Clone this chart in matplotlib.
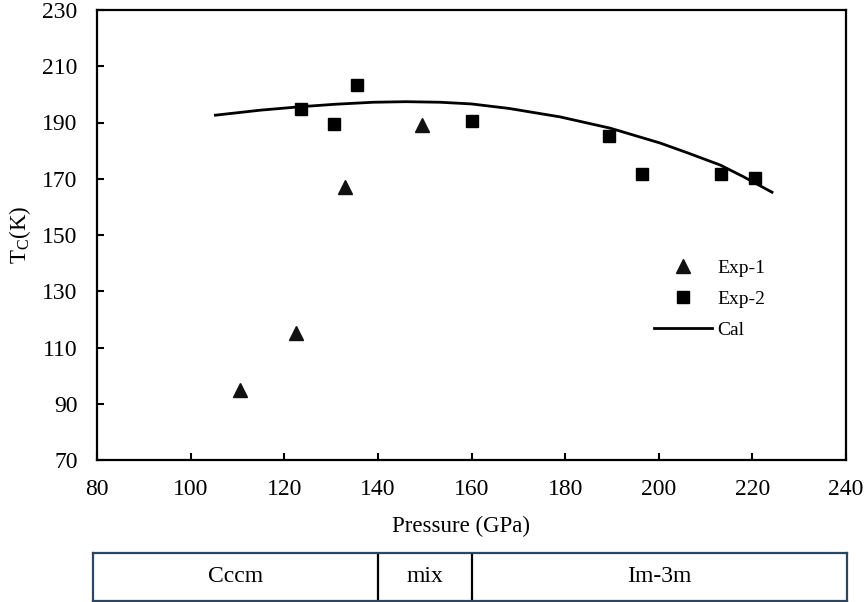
import matplotlib.pyplot as plt

plt.rcParams['font.family'] = ['Liberation Serif', 'DejaVu Serif']
plt.rcParams['mathtext.fontset'] = 'custom'
plt.rcParams['mathtext.rm'] = 'Liberation Serif'

# Exp-1 (triangles)
exp1_p = [110.6, 122.5, 133.0, 149.4]
exp1_tc = [94.8, 115.2, 167.2, 189.0]

# Exp-2 (squares)
exp2_p = [123.6, 130.6, 135.6, 160.1, 189.4, 196.5, 213.3, 220.6]
exp2_tc = [194.8, 189.6, 203.3, 190.5, 185.3, 171.6, 171.6, 170.2]

# Cal (line)
cal_p = [105.3, 115.0, 123.4, 131.0, 139.0, 146.0, 153.3, 160.0, 168.0, 178.9, 189.6, 200.3, 206.0, 213.1, 218.0, 224.2]
cal_tc = [192.6, 194.4, 195.6, 196.5, 197.2, 197.4, 197.2, 196.6, 195.0, 192.0, 188.0, 182.7, 179.3, 174.9, 170.8, 165.2]

# phase regions along pressure axis
phase_names = ['Cccm', 'mix', 'Im-3m']
phase_edges = [79.2, 140.0, 160.1, 240.2]

fig = plt.figure(figsize=(8.66, 6.02), dpi=100)
ax = fig.add_axes([97 / 866, 1 - 460 / 602, 749 / 866, 450 / 602])

ax.plot(exp1_p, exp1_tc, linestyle='none', marker='^', markersize=10, color='#111111', label='Exp-1')
ax.plot(exp2_p, exp2_tc, linestyle='none', marker='s', markersize=9, color='black', label='Exp-2')
ax.plot(cal_p, cal_tc, color='black', linewidth=2.0, label='Cal')

ax.set_xlim(80, 240)
ax.set_ylim(70, 230)
ax.set_xticks(range(80, 241, 20))
ax.set_yticks(range(70, 231, 20))
ax.tick_params(direction='in', length=5, width=1.5, labelsize=17)
ax.tick_params(axis='x', pad=14)
ax.tick_params(axis='y', pad=14)
for s in ax.spines.values():
    s.set_linewidth(1.6)
ax.set_xlabel('Pressure (GPa)', fontsize=16.5)
ax.xaxis.set_label_coords(0.486, -0.125)
ax.set_ylabel(r'T$_\mathregular{C}$(K)', fontsize=16.5)
ax.yaxis.set_label_coords(-0.086, 0.5)

ax.legend(loc='upper left', bbox_to_anchor=(0.72, 0.485), frameon=False, fontsize=14,
          handlelength=3.0, handletextpad=0.25, labelspacing=0.68)

# phase bar under the plot
bx = fig.add_axes([93 / 866, 1 - 601 / 602, 754 / 866, 48 / 602])
bx.set_xlim(phase_edges[0], phase_edges[-1])
bx.set_ylim(0, 1)
bx.set_xticks([])
bx.set_yticks([])
for s in bx.spines.values():
    s.set_linewidth(1.6)
    s.set_color('#2c4560')
for e in phase_edges[1:-1]:
    bx.axvline(e, color='black', linewidth=1.6)
for i, name in enumerate(phase_names):
    bx.text((phase_edges[i] + phase_edges[i + 1]) / 2, 0.5, name, ha='center', va='center', fontsize=17)

fig.savefig('out.png', dpi=100)
